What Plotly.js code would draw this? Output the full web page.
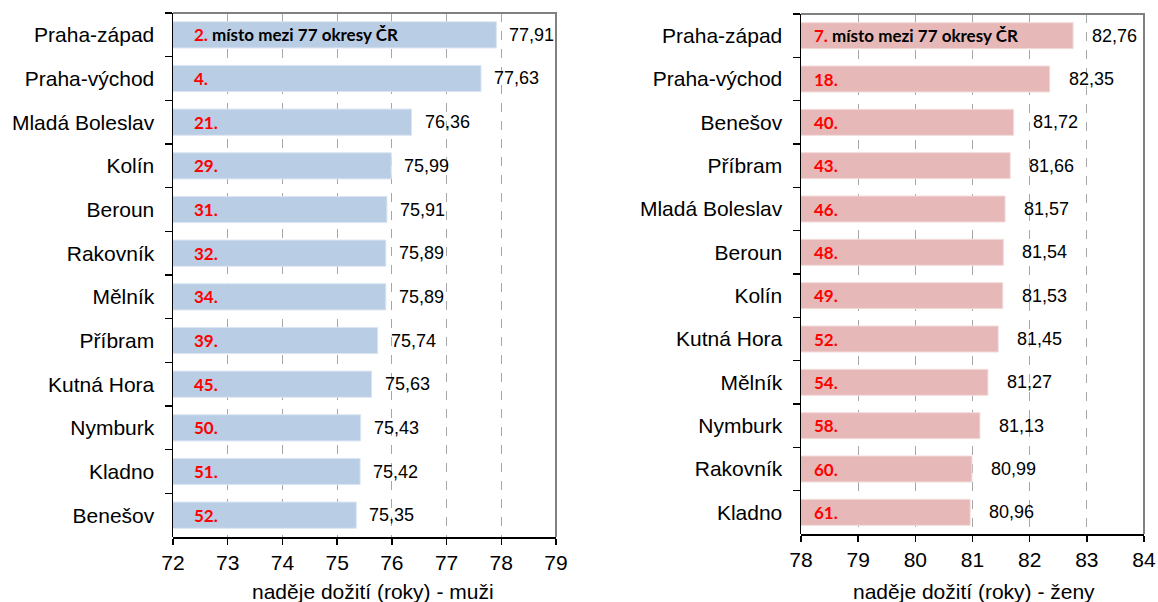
<!DOCTYPE html>
<html>
<head>
<meta charset="utf-8">
<script src="https://cdn.plot.ly/plotly-3.0.1.min.js"></script>
<style>body{margin:0;background:#fff}#c{width:1158px;height:602px}</style>
</head>
<body>
<div id="c"></div>
<script>
const menDistricts = ["Praha-západ","Praha-východ","Mladá Boleslav","Kolín","Beroun","Rakovník","Mělník","Příbram","Kutná Hora","Nymburk","Kladno","Benešov"];
const menValues = [77.91,77.63,76.36,75.99,75.91,75.89,75.89,75.74,75.63,75.43,75.42,75.35];
const menRanks = [2,4,21,29,31,32,34,39,45,50,51,52];

const womenDistricts = ["Praha-západ","Praha-východ","Benešov","Příbram","Mladá Boleslav","Beroun","Kolín","Kutná Hora","Mělník","Nymburk","Rakovník","Kladno"];
const womenValues = [82.76,82.35,81.72,81.66,81.57,81.54,81.53,81.45,81.27,81.13,80.99,80.96];
const womenRanks = [7,18,40,43,46,48,49,52,54,58,60,61];

const menTicks = [72,73,74,75,76,77,78,79];
const womenTicks = [78,79,80,81,82,83,84];
const menTitle = "naděje dožití (roky) - muži";
const womenTitle = "naděje dožití (roky) - ženy";
const rankSuffix = " místo mezi 77 okresy ČR";

const W = 1158, H = 602;
const px = v => v / W, py = v => 1 - v / H;
const ARIAL = 'Liberation Sans, Arial, sans-serif';

const fmt = v => v.toFixed(2).replace('.', ',');

const traces = [
  {type:'bar', orientation:'h', x:menValues, y:menDistricts, xaxis:'x', yaxis:'y',
   marker:{color:'#B9CDE5', line:{color:'#DCE6F2', width:1}}, width:0.6, hoverinfo:'x+y'},
  {type:'bar', orientation:'h', x:womenValues, y:womenDistricts, xaxis:'x2', yaxis:'y2',
   marker:{color:'#E6B9B8', line:{color:'#F2DCDB', width:1}}, width:0.6, hoverinfo:'x+y'}
];

const annotations = [];
function addLabels(vals, cats, ranks, xr, yr, x0, rankShift, valShift) {
  vals.forEach((v, i) => {
    annotations.push({xref:xr, yref:yr, x:v, y:cats[i], text:fmt(v), showarrow:false,
      xanchor:'left', xshift:valShift, font:{family:ARIAL, size:18, color:'#000'}});
    let t = '<b><span style="color:#FF0000">' + ranks[i] + '.</span>' + (i === 0 ? rankSuffix : '') + '</b>';
    annotations.push({xref:xr, yref:yr, x:x0, y:cats[i], text:t, showarrow:false,
      xanchor:'left', xshift:rankShift, font:{family:'Lato, Carlito, sans-serif', size:17, color:'#000'}});
  });
}
addLabels(menValues, menDistricts, menRanks, 'x', 'y', 72, 19, 11);
addLabels(womenValues, womenDistricts, womenRanks, 'x2', 'y2', 78, 11, 17);

annotations.push({xref:'paper', yref:'paper', x:px(373), y:py(591), text:menTitle, showarrow:false,
  xanchor:'center', yanchor:'middle', font:{family:ARIAL, size:21, color:'#000'}});
annotations.push({xref:'paper', yref:'paper', x:px(974), y:py(591), text:womenTitle, showarrow:false,
  xanchor:'center', yanchor:'middle', font:{family:ARIAL, size:21, color:'#000'}});

const L = {l:173, r:556, t:13, b:537};
const R = {l:801, r:1144, t:14, b:534};

const xbase = {
  showgrid:true, gridcolor:'#A6A6A6', griddash:'dash', gridwidth:1,
  showline:true, linecolor:'#000', linewidth:1.5,
  ticks:'outside', ticklen:6, tickcolor:'#000', tickwidth:1.5,
  tickfont:{family:ARIAL, size:21, color:'#000'},
  zeroline:false, fixedrange:true, anchor:'free'
};
const ybase = {
  type:'category', autorange:'reversed', showgrid:false,
  showline:true, linecolor:'#000', linewidth:1.5,
  ticks:'outside', ticklen:7, tickcolor:'#000', tickwidth:1.5, tickson:'boundaries',
  tickfont:{family:ARIAL, size:21, color:'#000'},
  ticklabelstandoff:13, zeroline:false, fixedrange:true
};

const layout = {
  width:W, height:H, margin:{l:0, r:0, t:0, b:0}, paper_bgcolor:'#fff', plot_bgcolor:'#fff',
  showlegend:false, bargap:0.4,
  xaxis: Object.assign({}, xbase, {domain:[px(L.l), px(L.r)], range:[72,79], tickvals:menTicks, ticktext:menTicks.map(String), position:py(L.b)}),
  yaxis: Object.assign({}, ybase, {domain:[py(L.b), py(L.t)], anchor:'x'}),
  xaxis2: Object.assign({}, xbase, {domain:[px(R.l), px(R.r)], range:[78,84], tickvals:womenTicks, ticktext:womenTicks.map(String), position:py(R.b)}),
  yaxis2: Object.assign({}, ybase, {domain:[py(R.b), py(R.t)], anchor:'x2'}),
  annotations: annotations,
  shapes: [
    {type:'path', xref:'paper', yref:'paper', path:`M ${px(L.l)} ${py(L.t)} L ${px(L.r)} ${py(L.t)} L ${px(L.r)} ${py(L.b)}`, line:{color:'#808080', width:2}},
    {type:'path', xref:'paper', yref:'paper', path:`M ${px(R.l)} ${py(R.t)} L ${px(R.r)} ${py(R.t)} L ${px(R.r)} ${py(R.b)}`, line:{color:'#808080', width:2}}
  ]
};

Plotly.newPlot('c', traces, layout, {displayModeBar:false, staticPlot:true});
</script>
</body>
</html>
